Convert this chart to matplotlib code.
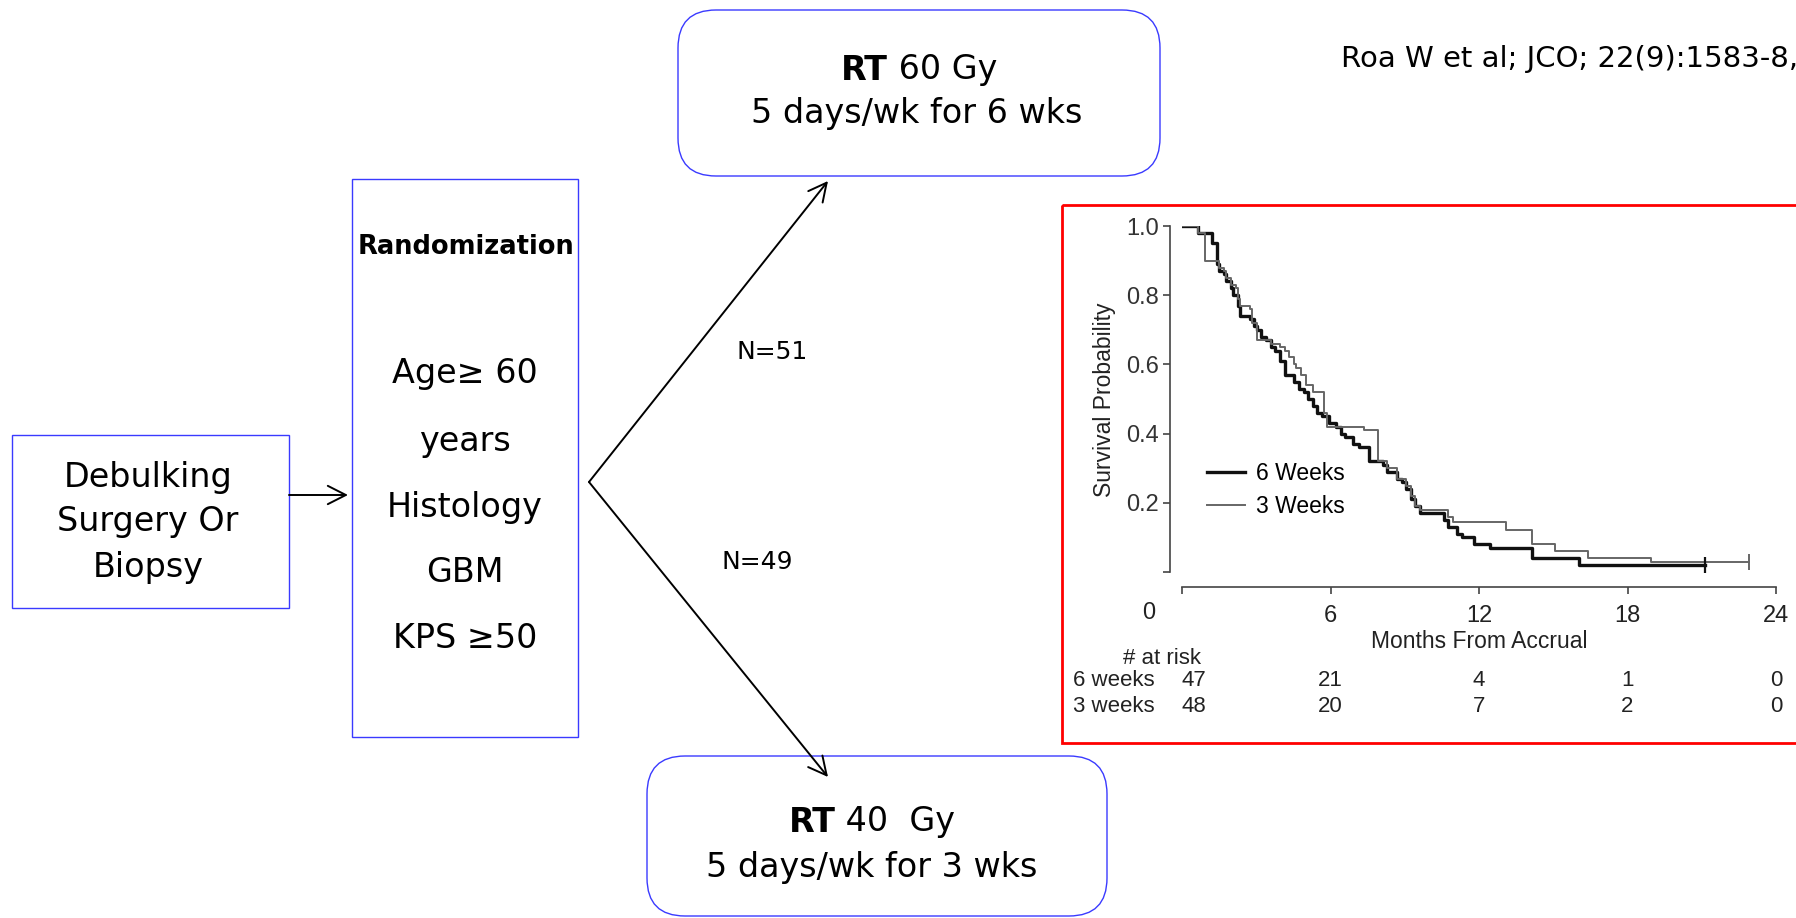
import matplotlib
matplotlib.use("Agg")
import matplotlib.pyplot as plt
import matplotlib.transforms as mtransforms
from matplotlib.patches import FancyBboxPatch, Rectangle

# Kaplan-Meier curves (months, survival after step)
t_6wk = [0, 0.66, 1.23, 1.42, 1.51, 1.70, 1.79, 1.98, 2.08, 2.26, 2.36, 2.74, 2.92, 3.02,
         3.21, 3.40, 3.58, 3.77, 3.96, 4.15, 4.53, 4.72, 4.91, 5.09, 5.28, 5.47, 5.66, 5.94,
         6.23, 6.42, 6.60, 6.89, 7.17, 7.55, 8.11, 8.30, 8.68, 8.87, 9.06, 9.25, 9.43, 9.62,
         10.57, 10.75, 11.13, 11.32, 11.79, 12.45, 14.15, 16.04, 21.13]
s_6wk = [1.0, 0.98, 0.95, 0.89, 0.87, 0.86, 0.84, 0.82, 0.80, 0.77, 0.74, 0.73, 0.71, 0.70,
         0.68, 0.67, 0.65, 0.64, 0.61, 0.57, 0.55, 0.53, 0.52, 0.50, 0.48, 0.46, 0.45, 0.43,
         0.42, 0.40, 0.39, 0.37, 0.36, 0.32, 0.31, 0.29, 0.27, 0.26, 0.24, 0.21, 0.19, 0.17,
         0.15, 0.13, 0.11, 0.10, 0.08, 0.07, 0.04, 0.02, 0.02]
t_3wk = [0, 0.66, 0.94, 1.51, 1.70, 1.79, 1.98, 2.17, 2.26, 2.36, 2.74, 2.83, 3.02, 3.58,
         3.96, 4.15, 4.34, 4.53, 4.62, 4.81, 5.00, 5.28, 5.75, 5.85, 7.36, 7.92, 8.30, 8.68,
         9.06, 9.25, 9.43, 9.62, 10.75, 10.94, 13.11, 14.15, 15.09, 16.42, 18.96, 22.92]
s_3wk = [1.0, 0.98, 0.90, 0.88, 0.87, 0.85, 0.83, 0.82, 0.79, 0.77, 0.76, 0.72, 0.67, 0.66,
         0.65, 0.64, 0.62, 0.60, 0.59, 0.57, 0.54, 0.52, 0.46, 0.42, 0.41, 0.32, 0.30, 0.27,
         0.25, 0.22, 0.19, 0.18, 0.16, 0.145, 0.12, 0.08, 0.06, 0.04, 0.03, 0.03]

risk_times = [0, 6, 12, 18, 24]
risk_6wk = ["47", "21", "4", "1", "0"]
risk_3wk = ["48", "20", "7", "2", "0"]
x_ticks = [0, 6, 12, 18, 24]
y_ticks = [0, 0.2, 0.4, 0.6, 0.8, 1.0]

surgery_lines = ["Debulking", "Surgery Or", "Biopsy"]
criteria_lines = ["Age\u2265 60", "years", "Histology", "GBM", "KPS \u226550"]
arm_labels = ["N=51", "N=49"]

W, H = 1796, 918
BLUE = "#3a3aff"
MAIN_FONT = "DejaVu Sans"
KM_FONT = "Liberation Sans"
MAIN_SIZE = 24
KM_SIZE = 16
INK = "#222222"

fig = plt.figure(figsize=(W / 100, H / 100), dpi=100)
ax = fig.add_axes([0, 0, 1, 1])
ax.set_xlim(0, W)
ax.set_ylim(H, 0)
ax.axis("off")

# boxes
ax.add_patch(Rectangle((12, 435), 277, 173, fill=False, ec=BLUE, lw=1.0))
ax.add_patch(Rectangle((352, 179), 226, 558, fill=False, ec=BLUE, lw=1.0))
ax.add_patch(FancyBboxPatch((678, 10), 482, 166, boxstyle="round,pad=0,rounding_size=38",
                            fill=False, ec=BLUE, lw=1.0))
ax.add_patch(FancyBboxPatch((647, 756), 460, 160, boxstyle="round,pad=0,rounding_size=38",
                            fill=False, ec=BLUE, lw=1.0))
ax.add_patch(Rectangle((1062, 205), 800, 538, fill=False, ec="red", lw=2.0))

for txt, y in zip(surgery_lines, [478, 522, 567]):
    ax.text(148, y, txt, ha="center", va="center", fontsize=MAIN_SIZE, family=MAIN_FONT)

ax.text(466, 247, "Randomization", ha="center", va="center", fontsize=18.5,
        weight="bold", family=MAIN_FONT)
for txt, y in zip(criteria_lines, [373, 441, 508, 572, 639]):
    ax.text(465, y, txt, ha="center", va="center", fontsize=MAIN_SIZE, family=MAIN_FONT)

renderer = fig.canvas.get_renderer()


def rich_line(xc, y, bold, rest, size):
    t1 = ax.text(0, y, bold, ha="left", va="center", fontsize=size, weight="bold", family=MAIN_FONT)
    t2 = ax.text(0, y, rest, ha="left", va="center", fontsize=size, family=MAIN_FONT)
    w1 = t1.get_window_extent(renderer).width
    w2 = t2.get_window_extent(renderer).width
    left = xc - (w1 + w2) / 2
    t1.set_x(left)
    t2.set_x(left + w1)


rich_line(919, 70, "RT", " 60 Gy", MAIN_SIZE)
ax.text(917, 113, "5 days/wk for 6 wks", ha="center", va="center", fontsize=MAIN_SIZE,
        family=MAIN_FONT)
rich_line(872, 822, "RT", " 40  Gy", MAIN_SIZE)
ax.text(872, 867, "5 days/wk for 3 wks", ha="center", va="center", fontsize=MAIN_SIZE,
        family=MAIN_FONT)

ax.text(1341, 59, "Roa W et al; JCO; 22(9):1583-8,", ha="left", va="center", fontsize=21,
        family=MAIN_FONT)

ax.text(772, 352, arm_labels[0], ha="center", va="center", fontsize=18, family=MAIN_FONT)
ax.text(757, 562, arm_labels[1], ha="center", va="center", fontsize=18, family=MAIN_FONT)

arrow = dict(arrowstyle="->,head_length=0.65,head_width=0.33", lw=1.4, color="black",
             shrinkA=0, shrinkB=0, mutation_scale=20)
ax.annotate("", xy=(348, 495), xytext=(289, 495), arrowprops=arrow)
ax.annotate("", xy=(828, 181), xytext=(589, 482), arrowprops=arrow)
ax.annotate("", xy=(828, 777), xytext=(589, 482), arrowprops=arrow)

# Kaplan-Meier inset
km = fig.add_axes([1182 / W, 1 - 572 / H, 594 / W, 346 / H])
km.set_facecolor("none")
l6, = km.step(t_6wk, s_6wk, where="post", color="#111111", lw=2.4, label="6 Weeks")
l3, = km.step(t_3wk, s_3wk, where="post", color="#666666", lw=1.4, label="3 Weeks")
km.plot(t_6wk[-1], s_6wk[-1], marker="|", ms=12, color="#111111", mew=1.6)
km.plot(t_3wk[-1], s_3wk[-1], marker="|", ms=12, color="#666666", mew=1.4)
km.set_xlim(0, 24)
km.set_ylim(0, 1)
for side in ["top", "right"]:
    km.spines[side].set_visible(False)
km.spines["left"].set_position(("outward", 8.6))
km.spines["bottom"].set_position(("outward", 10.5))
km.spines["left"].set_bounds(0, 1)
km.spines["bottom"].set_bounds(0, 24)
for side in ["left", "bottom"]:
    km.spines[side].set_color("#444444")
    km.spines[side].set_linewidth(1.2)
km.set_yticks(y_ticks)
km.set_yticklabels([""] + ["%.1f" % v for v in y_ticks[1:]], family=KM_FONT, fontsize=17,
                   color="#333333")
km.set_xticks(x_ticks)
km.set_xticklabels([""] + [str(v) for v in x_ticks[1:]], family=KM_FONT, fontsize=17,
                   color=INK)
km.tick_params(axis="y", length=5, width=1.2, color="#444444", pad=3)
km.tick_params(axis="x", length=5, width=1.2, color="#444444", pad=8)

tr = mtransforms.blended_transform_factory(km.transData, ax.transData)
ax.text(-1.35, 613, "0", transform=tr, ha="center", va="center", fontsize=17,
        family=KM_FONT, color=INK)
ax.text(12, 642, "Months From Accrual", transform=tr, ha="center", va="center",
        fontsize=16.5, family=KM_FONT, color=INK)
ax.text(1162, 658, "# at risk", ha="center", va="center", fontsize=KM_SIZE, family=KM_FONT,
        color=INK)
ax.text(1073, 681, "6 weeks", ha="left", va="center", fontsize=KM_SIZE, family=KM_FONT, color=INK)
ax.text(1073, 707, "3 weeks", ha="left", va="center", fontsize=KM_SIZE, family=KM_FONT, color=INK)
for t, a, b in zip(risk_times, risk_6wk, risk_3wk):
    ha = "left" if t == 0 else "center"
    ax.text(t, 681, a, transform=tr, ha=ha, va="center", fontsize=KM_SIZE, family=KM_FONT,
            color=INK)
    ax.text(t, 707, b, transform=tr, ha=ha, va="center", fontsize=KM_SIZE, family=KM_FONT,
            color=INK)
ax.text(1105, 400, "Survival Probability", rotation=90, ha="center", va="center",
        fontsize=16.5, family=KM_FONT, color=INK)

km.legend(handles=[l6, l3], loc="center left", bbox_to_anchor=(1207, 490),
          bbox_transform=ax.transData, frameon=False, borderpad=0, borderaxespad=0,
          handlelength=1.65, handletextpad=0.5, labelspacing=0.45,
          prop={"family": KM_FONT, "size": 16.5})

fig.savefig("out.png", dpi=100)
